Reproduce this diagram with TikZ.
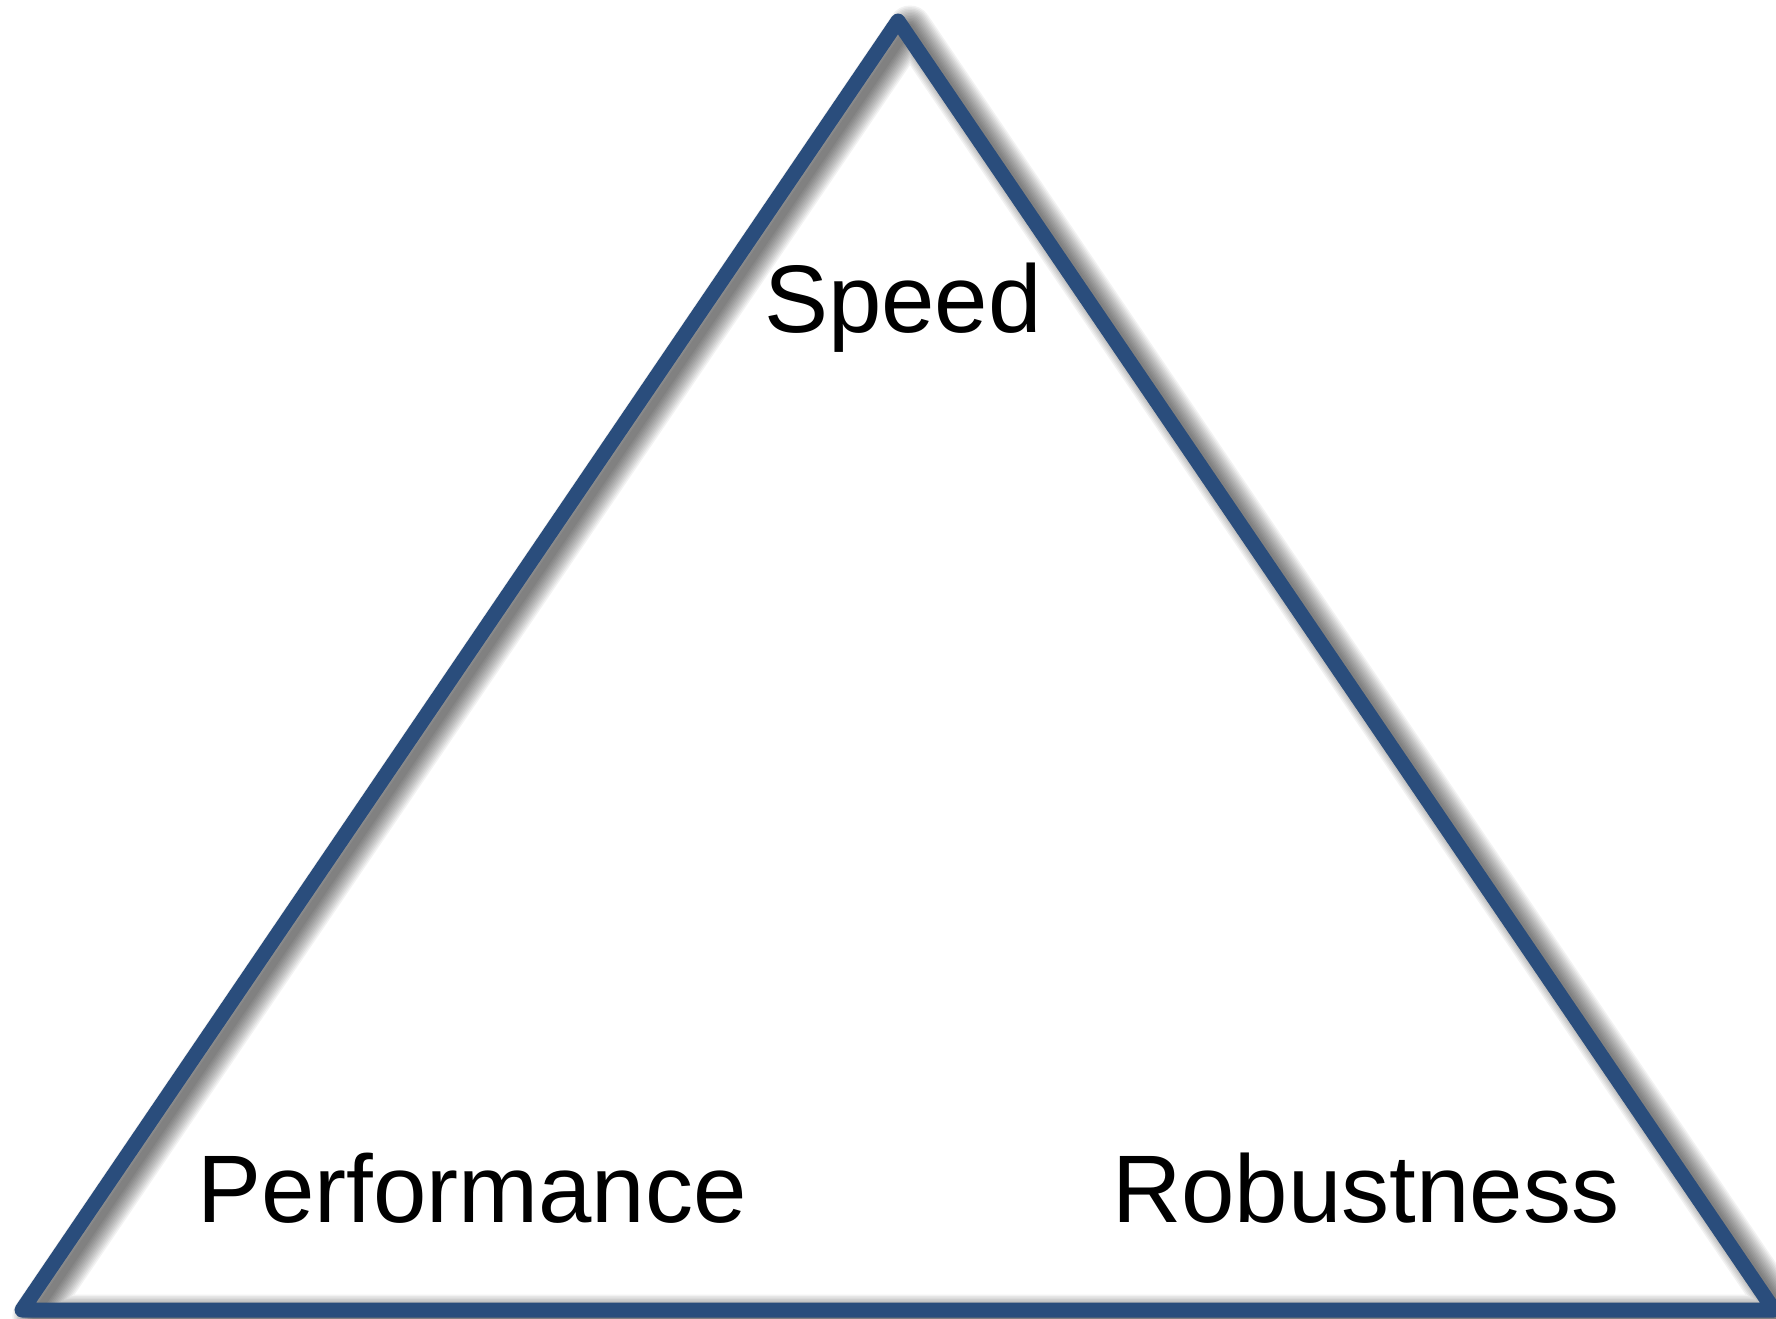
\documentclass[tikz,border=0pt]{standalone}
\usepackage{fontspec}
\setmainfont{Liberation Sans}
\definecolor{triblue}{HTML}{2A4D7C}
\begin{document}
\begin{tikzpicture}[x=1pt,y=-1pt,
  edge/.style={draw=triblue,line width=15pt,line join=round,line cap=round},
  lbl/.style={inner sep=0pt,font=\fontsize{96}{115}\selectfont}]
\useasboundingbox (0,0) rectangle (1776,1318);
\coordinate (A) at (898,21);
\coordinate (B) at (22,1310);
\coordinate (C) at (1774,1310);
% soft shadow
\foreach \w in {7,10,...,43}{
  \draw[black,opacity=0.05,line width=\w pt,line join=round]
    ([shift={(12,6)}]A) -- ([shift={(12,6)}]B) -- ([shift={(12,6)}]C) -- cycle;
}
\draw[edge] (A) -- (B) -- (C) -- cycle;
\node[lbl,anchor=base] (speed) at (903,332) {Speed};
\node[lbl,anchor=base west] (perf) at (197,1222) {Performance};
\node[lbl,anchor=base west] (rob) at (1112,1222) {Robustness};
\end{tikzpicture}
\end{document}
